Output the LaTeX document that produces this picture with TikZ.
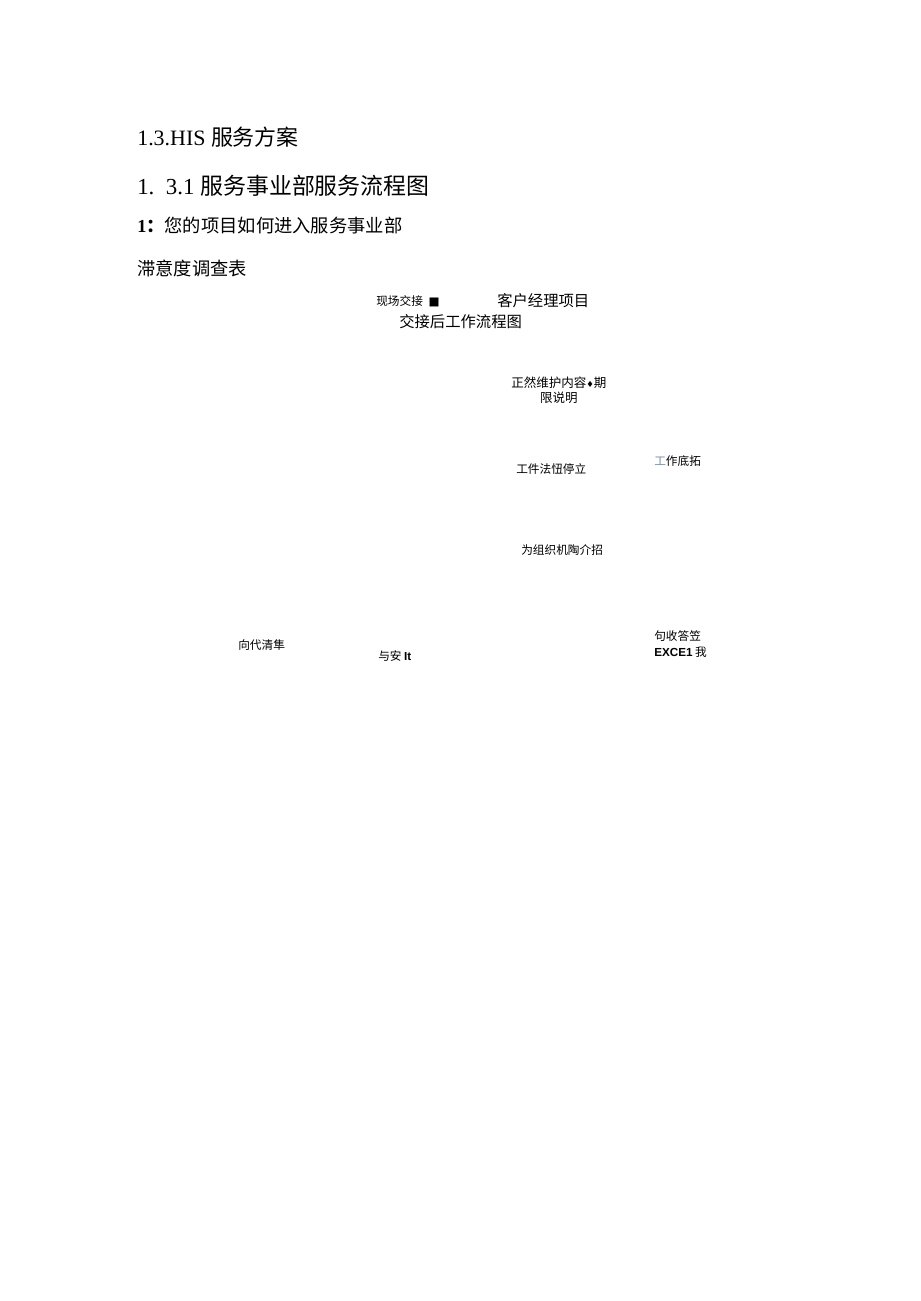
\documentclass[tikz,border=0pt]{standalone}
\usepackage{fontspec}
\setmainfont{Liberation Serif}
\newfontfamily\cjk{Noto Sans CJK SC}
\newfontfamily\arial{Liberation Sans}
\newfontfamily\dejavu{DejaVu Sans}
\usepackage{xcolor}
\definecolor{PaleBlue}{RGB}{120,140,170}
\usetikzlibrary{positioning}

\begin{document}
\begin{tikzpicture}[x=0.025cm, y=-0.025cm,
    head/.style={anchor=west, inner sep=0pt, font=\fontsize{15.6}{18}\selectfont},
    sub/.style={anchor=west, inner sep=0pt, font=\fontsize{13}{15}\selectfont},
    mid/.style={anchor=west, inner sep=0pt, font=\fontsize{10.9}{13}\selectfont\cjk},
    lbl/.style={anchor=west, inner sep=0pt, align=center, font=\fontsize{8.3}{11}\selectfont\cjk}
]
    \useasboundingbox (0,0) rectangle (920,1301);
    % headings
    \node[head] (h1) at (137,137) {1.3.HIS {\cjk 服务方案}};
    \node[head, font=\fontsize{16.3}{19}\selectfont] (h2) at (137,186) {1.\ \ 3.1 {\cjk 服务事业部服务流程图}};
    \node[sub] (h3) at (137,226) {\textbf{1\cjk ：}{\cjk 您的项目如何进入服务事业部}};
    \node[sub, font=\fontsize{13}{15}\selectfont\cjk] (h4) at (137,268) {滞意度调查表};
    % flow chart labels
    \node[lbl] (xc) at (376,301) {现场交接\hspace{4pt}{\dejavu ■}};
    \node[mid] (kh) at (497,301) {客户经理项目};
    \node[mid] (jj) at (399,322) {交接后工作流程图};
    \node[lbl, font=\fontsize{8.9}{11}\selectfont\cjk] (zr) at (511,390) {正然维护内容{\dejavu\fontsize{6}{8}\selectfont ♦}期\\限说明};
    \node[lbl] (gd) at (654,461) {{\color{PaleBlue}工}作底拓};
    \node[lbl] (gj) at (516,469) {工件法忸停立};
    \node[lbl] (wz) at (521,550) {为组织机陶介招};
    \node[lbl] (xd) at (238,645) {向代清隼};
    \node[lbl] (ya) at (378,656) {与安 {\arial\bfseries It}};
    \node[lbl, align=left] (js) at (654,644) {句收答笠\\{\arial\bfseries EXCE1} 我};
\end{tikzpicture}
\end{document}
